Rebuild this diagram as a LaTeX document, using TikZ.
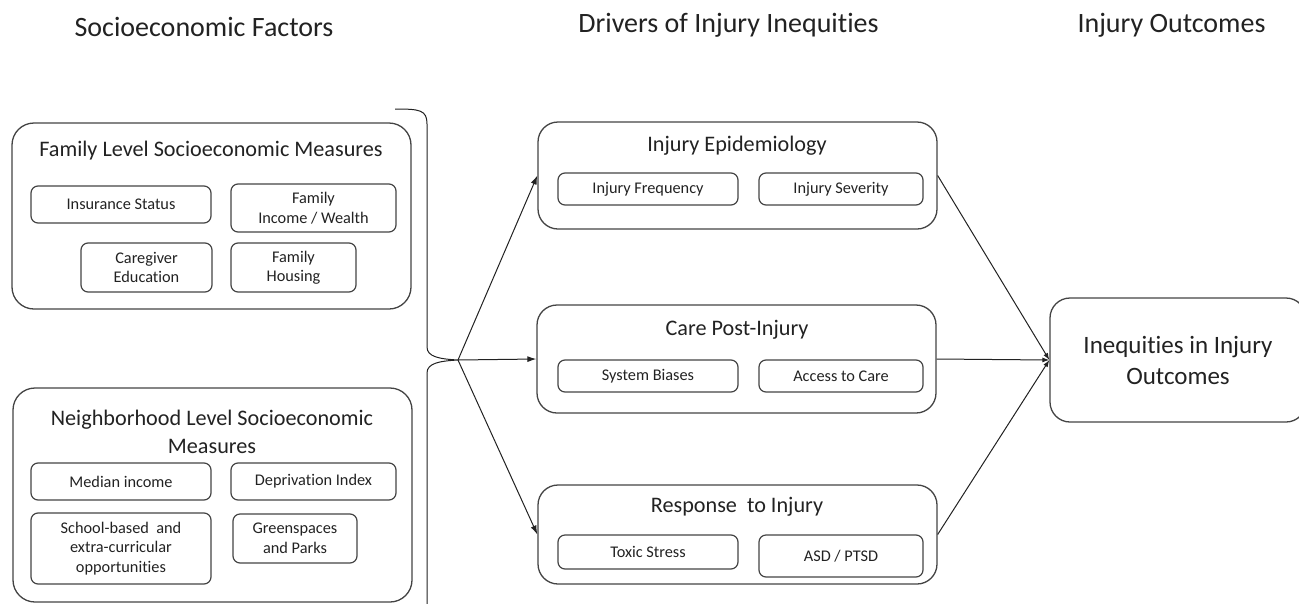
\documentclass[tikz,border=0pt]{standalone}
\usepackage{fontspec}
\setmainfont{Carlito}[Ligatures=NoCommon]
\usetikzlibrary{arrows.meta}
\definecolor{ink}{HTML}{222222}
\definecolor{edge}{HTML}{444444}
\begin{document}
\begin{tikzpicture}[x=1pt,y=-1pt,
  bigbox/.style={draw=edge,line width=1.3pt,rounded corners=22pt,inner sep=0pt},
  subbox/.style={draw=edge,line width=1.2pt,rounded corners=7pt,inner sep=0pt,font=\fontsize{16.3}{19.5}\selectfont,text=ink,align=center},
  head/.style={font=\fontsize{28}{32}\selectfont,text=ink,align=center},
  boxtitle/.style={font=\fontsize{22.2}{28}\selectfont,text=ink,align=center},
  conn/.style={draw=ink,line width=1pt},
  arr/.style={conn,-{Latex[length=9pt,width=6pt]}}]
\useasboundingbox (0,0) rectangle (1299,603);
\clip (0,0) rectangle (1299,603);
% headings
\node[head] (h1) at (204,27) {Socioeconomic Factors};
\node[head] (h2) at (728.5,25) {Drivers of Injury Inequities};
\node[head] (h3) at (1171.5,25) {Injury Outcomes};
% family box
\node[bigbox,minimum width=399pt,minimum height=186pt] (fam) at (211.5,216) {};
\node[boxtitle] (famt) at (211,151) {Family Level Socioeconomic Measures};
\node[subbox,minimum width=180pt,minimum height=37pt] (ins) at (121,204.5) {Insurance Status};
\node[subbox,minimum width=165pt,minimum height=48pt] (inc) at (313.5,208) {Family\\Income / Wealth};
\node[subbox,minimum width=131pt,minimum height=49pt] (edu) at (146.5,267.5) {Caregiver\\Education};
\node[subbox,minimum width=125pt,minimum height=49pt] (hou) at (293.5,267.5) {Family\\Housing};
% neighborhood box
\node[bigbox,minimum width=399pt,minimum height=214pt] (nb) at (212.5,495) {};
\node[boxtitle] (nbt) at (212,432) {Neighborhood Level Socioeconomic\\Measures};
\node[subbox,minimum width=180pt,minimum height=37pt] (med) at (121,481.5) {Median income};
\node[subbox,minimum width=165pt,minimum height=37pt] (dep) at (313.5,481.5) {Deprivation Index};
\node[subbox,minimum width=180pt,minimum height=71pt] (sch) at (121,548.5) {School-based\ \ and\\extra-curricular\\opportunities};
\node[subbox,minimum width=124pt,minimum height=49pt] (grn) at (295,538.5) {Greenspaces\\and Parks};
% brace
\coordinate (tip) at (458,360);
\draw[conn] (395,109) .. controls (420,109) and (427,110) .. (427,124) -- (427,347)
  .. controls (427,357) and (440,359) .. (tip)
  .. controls (440,361) and (427,363) .. (427,373) -- (427,612);
% drivers
\node[bigbox,rounded corners=20pt,minimum width=399pt,minimum height=107pt] (epi) at (737.5,175.5) {};
\node[boxtitle] (epit) at (737,146) {Injury Epidemiology};
\node[subbox,minimum width=180pt,minimum height=32pt] (frq) at (648,189) {Injury Frequency};
\node[subbox,minimum width=164pt,minimum height=32pt] (sev) at (841,189) {Injury Severity};
\node[bigbox,rounded corners=20pt,minimum width=399pt,minimum height=108pt] (care) at (736.5,359) {};
\node[boxtitle] (caret) at (737,330) {Care Post-Injury};
\node[subbox,minimum width=180pt,minimum height=32pt] (bia) at (648,376) {System Biases};
\node[subbox,minimum width=164pt,minimum height=32pt] (acc) at (841,376) {Access to Care};
\node[bigbox,rounded corners=20pt,minimum width=399pt,minimum height=99pt] (resp) at (737.5,534.5) {};
\node[boxtitle] (respt) at (737,507) {Response\ \ to Injury};
\node[subbox,minimum width=180pt,minimum height=34pt] (tox) at (648,552) {Toxic Stress};
\node[subbox,minimum width=164pt,minimum height=42pt] (asd) at (841,556) {ASD / PTSD};
% outcome
\node[bigbox,rounded corners=20pt,minimum width=256pt,minimum height=124pt,font=\fontsize{25}{31}\selectfont,text=ink,align=center] (out) at (1178,360) {Inequities in Injury\\Outcomes};
% connectors
\draw[arr] (tip) -- (epi.west);
\draw[arr] (tip) -- (care.west);
\draw[arr] (tip) -- (resp.west);
\draw[arr,-{Latex[length=7pt,width=5pt]}] (epi.east) -- (out.west);
\draw[arr,-{Latex[length=7pt,width=5pt]}] (care.east) -- (out.west);
\draw[arr,-{Latex[length=7pt,width=5pt]}] (resp.east) -- (out.west);
\end{tikzpicture}
\end{document}
